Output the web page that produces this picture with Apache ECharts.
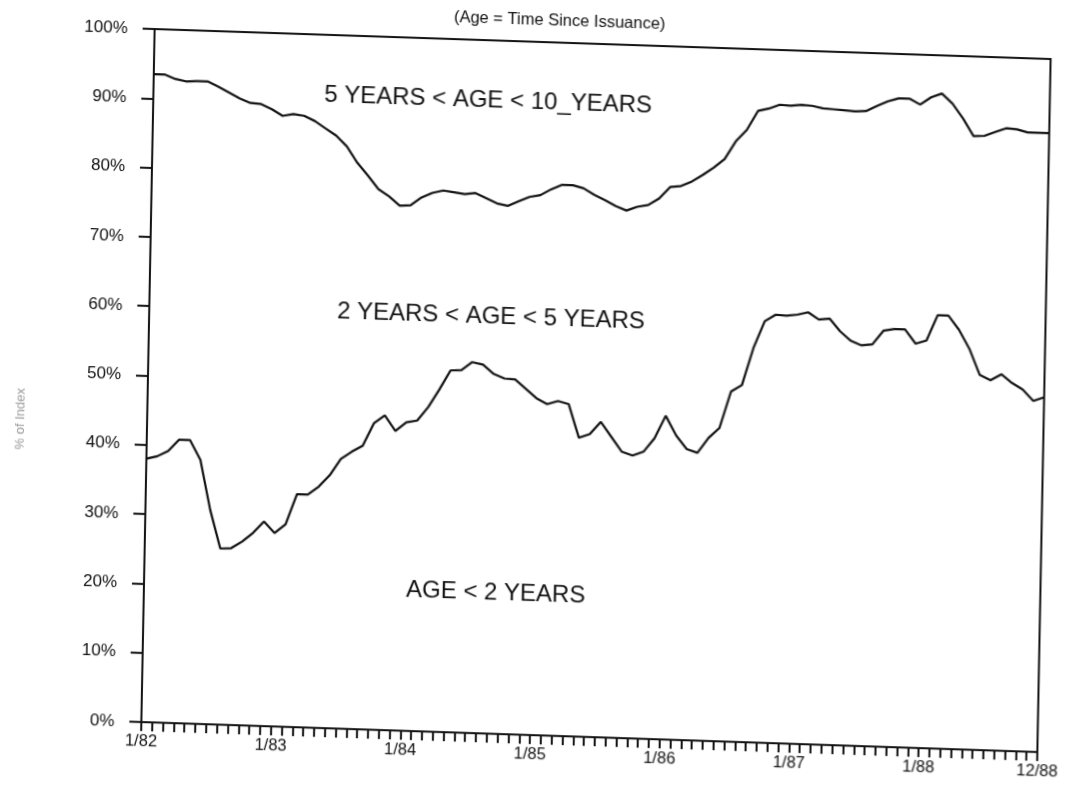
<!DOCTYPE html>
<html>
<head>
<meta charset="utf-8">
<script src="https://cdn.jsdelivr.net/npm/echarts@6/dist/echarts.min.js"></script>
<style>
html, body { margin: 0; padding: 0; background: #fff; overflow: hidden; width: 1067px; height: 790px; }
/* the scanned original is slightly skewed; reproduce that tilt on the whole drawing */
#chart { position: absolute; left: 0; top: 0; width: 1100px; height: 820px;
  transform-origin: 0 0; transform: matrix(0.9989, 0.03344, -0.01919, 1, 10.73, -25.85); }
</style>
</head>
<body>
<div id="chart"></div>
<script>
// Monthly categories, 1/82 .. 12/88
const months = [
  '1/82','2/82','3/82','4/82','5/82','6/82','7/82','8/82','9/82','10/82','11/82','12/82',
  '1/83','2/83','3/83','4/83','5/83','6/83','7/83','8/83','9/83','10/83','11/83','12/83',
  '1/84','2/84','3/84','4/84','5/84','6/84','7/84','8/84','9/84','10/84','11/84','12/84',
  '1/85','2/85','3/85','4/85','5/85','6/85','7/85','8/85','9/85','10/85','11/85','12/85',
  '1/86','2/86','3/86','4/86','5/86','6/86','7/86','8/86','9/86','10/86','11/86','12/86',
  '1/87','2/87','3/87','4/87','5/87','6/87','7/87','8/87','9/87','10/87','11/87','12/87',
  '1/88','2/88','3/88','4/88','5/88','6/88','7/88','8/88','9/88','10/88','11/88','12/88'
];

// Cumulative share of index with age < 5 years (upper boundary line)
const ageUnder5 = [
  93.5, 93.5, 92.9, 92.6, 92.7, 92.7, 92.0, 91.2, 90.4, 89.8, 89.7, 89.0,
  88.1, 88.4, 88.2, 87.5, 86.5, 85.5, 84.0, 81.7, 79.9, 78.0, 77.0, 75.7,
  75.8, 77.0, 77.7, 78.1, 77.9, 77.7, 77.9, 77.2, 76.5, 76.2, 76.9, 77.6,
  77.9, 78.8, 79.5, 79.5, 79.1, 78.2, 77.5, 76.7, 76.1, 76.7, 77.0, 78.0,
  79.7, 79.9, 80.6, 81.6, 82.7, 84.0, 86.6, 88.3, 91.1, 91.5, 92.1, 92.0,
  92.2, 92.1, 91.8, 91.7, 91.6, 91.5, 91.6, 92.4, 93.1, 93.6, 93.6, 92.8,
  93.9, 94.5, 93.1, 91.0, 88.5, 88.6, 89.2, 89.8, 89.7, 89.3, 89.3, 89.3
];

// Share of index with age < 2 years (lower boundary line)
const ageUnder2 = [
  38.0, 38.4, 39.2, 40.9, 40.9, 38.1, 30.9, 25.4, 25.5, 26.5, 27.8, 29.5,
  27.9, 29.2, 33.6, 33.6, 34.8, 36.5, 38.9, 40.0, 40.9, 44.2, 45.4, 43.2,
  44.5, 44.8, 46.8, 49.4, 52.2, 52.3, 53.5, 53.2, 51.9, 51.3, 51.2, 49.9,
  48.6, 47.8, 48.3, 47.9, 43.1, 43.7, 45.5, 43.4, 41.3, 40.8, 41.4, 43.4,
  46.7, 43.9, 42.0, 41.5, 43.7, 45.2, 50.5, 51.5, 56.9, 60.8, 61.8, 61.7,
  61.9, 62.3, 61.3, 61.5, 59.7, 58.4, 57.8, 58.0, 60.0, 60.3, 60.3, 58.3,
  58.8, 62.5, 62.5, 60.5, 57.8, 54.1, 53.4, 54.3, 53.1, 52.2, 50.6, 51.2
];

// Labelled x ticks
const xTickLabels = ['1/82', '1/83', '1/84', '1/85', '1/86', '1/87', '1/88', '12/88'];

// Texts
const titleText = '(Age = Time Since Issuance)';
const yAxisTitle = '% of Index';
const regionLabels = ['5 YEARS < AGE < 10_YEARS', '2 YEARS < AGE < 5 YEARS', 'AGE < 2 YEARS'];

const FONT = '"Liberation Sans", Arial, Helvetica, sans-serif';
const INK = '#111111';

const chart = echarts.init(document.getElementById('chart'), null, { renderer: 'canvas' });
chart.setOption({
  animation: false,
  backgroundColor: '#fff',
  title: {
    text: titleText,
    left: 'center',
    top: 15,
    textStyle: { fontFamily: FONT, fontSize: 16.5, fontWeight: 'normal', color: INK }
  },
  grid: {
    left: 145, top: 50, width: 897, height: 693,
    show: true, borderColor: INK, borderWidth: 2, backgroundColor: 'transparent'
  },
  xAxis: {
    type: 'category',
    data: months,
    boundaryGap: false,
    axisLine: { lineStyle: { color: INK, width: 2 } },
    axisTick: { show: true, interval: 0, length: 9, lineStyle: { color: INK, width: 2 } },
    axisLabel: {
      interval: 0,
      margin: 11,
      fontFamily: FONT, fontSize: 16.5, color: INK,
      formatter: v => (xTickLabels.indexOf(v) >= 0 ? v : '')
    },
    splitLine: { show: false }
  },
  yAxis: {
    type: 'value',
    min: 0, max: 100, interval: 10,
    axisLine: { show: true, lineStyle: { color: INK, width: 2 } },
    axisTick: { show: true, length: 12, lineStyle: { color: INK, width: 2 } },
    axisLabel: { margin: 27, fontFamily: FONT, fontSize: 17, color: INK, formatter: '{value}%' },
    splitLine: { show: false }
  },
  series: [
    {
      name: 'Age < 5 years',
      type: 'line',
      data: ageUnder5,
      showSymbol: false,
      lineStyle: { color: INK, width: 2.2 }
    },
    {
      name: 'Age < 2 years',
      type: 'line',
      data: ageUnder2,
      showSymbol: false,
      lineStyle: { color: INK, width: 2.2 }
    }
  ],
  graphic: [
    { type: 'text', x: 18, y: 444, rotation: Math.PI / 2,
      style: { text: yAxisTitle, fontFamily: FONT, fontSize: 13, fill: '#9a9a9a',
               align: 'center', verticalAlign: 'middle', textAlign: 'center', textVerticalAlign: 'middle' } },
    { type: 'text', x: 480, y: 110,
      style: { text: regionLabels[0], fontFamily: FONT, fontSize: 24, fill: INK,
               align: 'center', verticalAlign: 'middle', textAlign: 'center', textVerticalAlign: 'middle' } },
    { type: 'text', x: 487, y: 326,
      style: { text: regionLabels[1], fontFamily: FONT, fontSize: 24, fill: INK,
               align: 'center', verticalAlign: 'middle', textAlign: 'center', textVerticalAlign: 'middle' } },
    { type: 'text', x: 497, y: 602,
      style: { text: regionLabels[2], fontFamily: FONT, fontSize: 24, fill: INK,
               align: 'center', verticalAlign: 'middle', textAlign: 'center', textVerticalAlign: 'middle' } }
  ]
});
</script>
</body>
</html>
